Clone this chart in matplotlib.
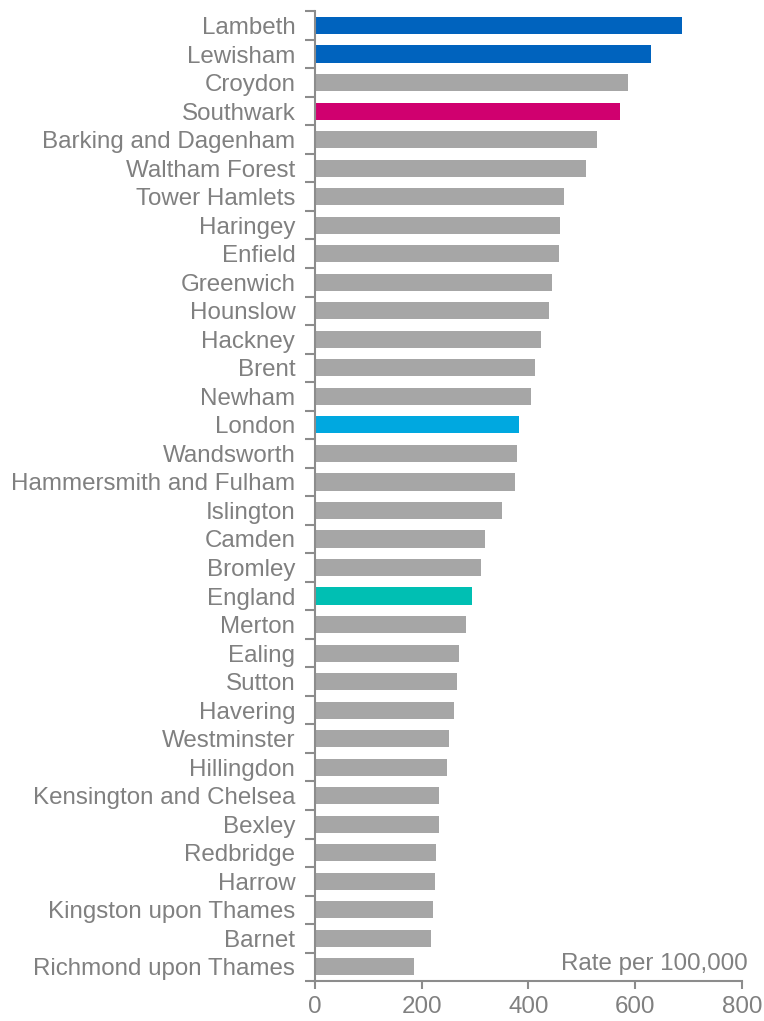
import numpy as np
import matplotlib.pyplot as plt

areas = ["Lambeth", "Lewisham", "Croydon", "Southwark", "Barking and Dagenham",
         "Waltham Forest", "Tower Hamlets", "Haringey", "Enfield", "Greenwich",
         "Hounslow", "Hackney", "Brent", "Newham", "London", "Wandsworth",
         "Hammersmith and Fulham", "Islington", "Camden", "Bromley", "England",
         "Merton", "Ealing", "Sutton", "Havering", "Westminster", "Hillingdon",
         "Kensington and Chelsea", "Bexley", "Redbridge", "Harrow",
         "Kingston upon Thames", "Barnet", "Richmond upon Thames"]
rates = [688, 630, 587, 572, 528, 509, 467, 459, 457, 444,
         438, 423, 412, 405, 382, 379, 375, 351, 318, 312,
         294, 283, 270, 266, 260, 251, 247, 232, 232, 228,
         226, 222, 218, 186]

grey = "#a6a6a6"
highlight = {"Lambeth": "#0063be", "Lewisham": "#0063be", "Southwark": "#d0006f",
             "London": "#00a8e0", "England": "#00bfb3"}
colors = [highlight.get(a, grey) for a in areas]

plt.rcParams['font.family'] = ['Liberation Sans', 'DejaVu Sans']
txt = "#808080"
axc = "#8c8c8c"

fig = plt.figure(figsize=(7.64, 10.21), dpi=100)
ax = fig.add_axes([0.412, 0.039, 0.559, 0.950])

y = np.arange(len(areas))
ax.barh(y, rates, height=0.6, color=colors)
ax.set_ylim(len(areas) - 0.5, -0.5)
ax.set_xlim(0, 800)
ax.set_xticks([0, 200, 400, 600, 800])

ax.set_yticks(y)
ax.set_yticklabels(areas)
ax.set_yticks(np.arange(len(areas) + 1) - 0.5, minor=True)
ax.tick_params(axis='y', which='major', length=0, pad=14, labelsize=17.4, labelcolor=txt)
ax.tick_params(axis='y', which='minor', length=7, width=1.5, color=axc)
ax.tick_params(axis='x', length=6, width=1.5, color=axc, labelsize=17.4, labelcolor=txt, pad=5)

for s in ["top", "right"]:
    ax.spines[s].set_visible(False)
for s in ["left", "bottom"]:
    ax.spines[s].set_color(axc)
    ax.spines[s].set_linewidth(1.5)

ax.text(1.014, 0.006, "Rate per 100,000", transform=ax.transAxes, ha='right',
        va='bottom', fontsize=17.4, color=txt)

fig.savefig("out.png", dpi=100)
